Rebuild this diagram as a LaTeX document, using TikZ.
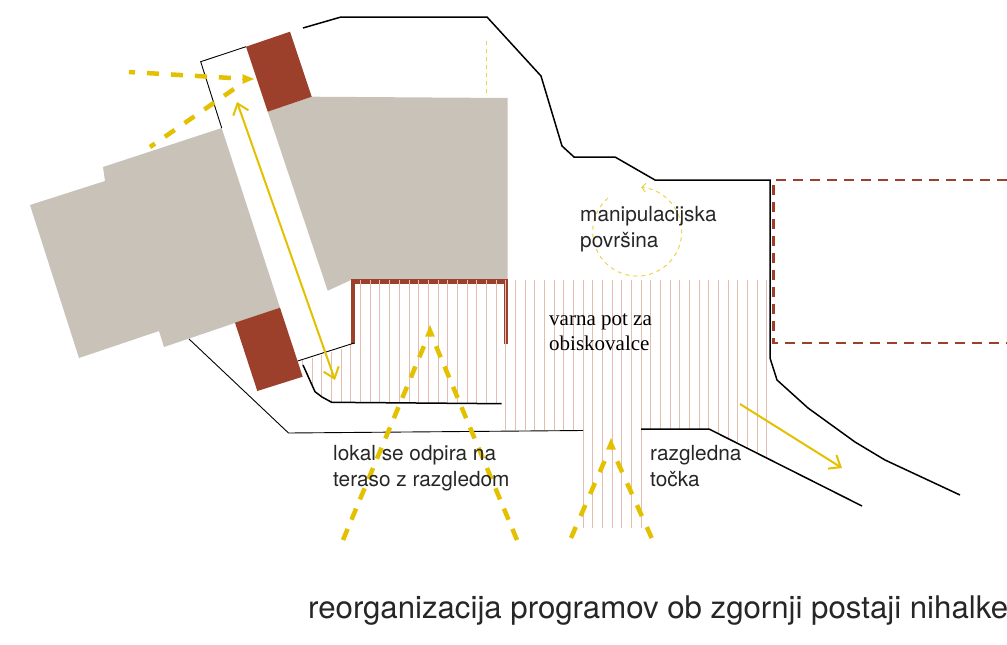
\documentclass[tikz,border=0pt]{standalone}
\usepackage{fontspec}
\setmainfont{TeX Gyre Heros}
\newfontfamily\serifface{Liberation Serif}
\usetikzlibrary{arrows.meta}
\definecolor{greymass}{HTML}{C9C2B8}
\definecolor{brick}{HTML}{9C3F2B}
\definecolor{ochre}{HTML}{E3C000}
\definecolor{hatch}{HTML}{E2BDB0}
\definecolor{labelink}{HTML}{262626}

\begin{document}
\begin{tikzpicture}[x=1pt, y=-1pt]

\tikzstyle{mass}=[fill=greymass, draw=none]
\tikzstyle{block}=[fill=brick, draw=none]
\tikzstyle{outline}=[draw=black, line width=1.5pt, line join=miter]
\tikzstyle{thinline}=[draw=black, line width=0.9pt]
\tikzstyle{walls}=[draw=brick, line width=4.5pt]
\tikzstyle{limit}=[draw=brick, line width=2.2pt, dash pattern=on 10pt off 7pt]
\tikzstyle{hatchline}=[draw=hatch, line width=1pt]
\tikzstyle{view}=[draw=ochre, line width=4.5pt, dash pattern=on 12pt off 10pt]
\tikzstyle{viewtip}=[draw=ochre, line width=0.2pt,
  -{Triangle[width=9.5pt, length=11.5pt, fill=ochre]}]
\tikzstyle{move}=[draw=ochre, line width=2pt]
\tikzstyle{faint}=[draw=ochre!70, line width=1pt, dash pattern=on 4pt off 4pt]
\tikzstyle{label}=[anchor=north west, inner sep=0pt, align=left, text=labelink,
  font=\fontsize{20.8}{26}\selectfont]

\useasboundingbox (0,0) rectangle (1007,645);

\fill[mass] (267.7,111.7) -- (311.7,96.7) -- (507.6,98) -- (507.6,280)
  -- (351,280) -- (327.7,290.7) -- cycle;
\fill[mass] (30,205) -- (105,181) -- (103,167) -- (221.7,128) -- (280,307.7)
  -- (164,347) -- (159,331) -- (79,358) -- cycle;

\fill[block] (246,46.7) -- (290,31.7) -- (311.7,96.7) -- (267.7,111.7) -- cycle;
\fill[block] (235,322.7) -- (280,307.7) -- (302.7,376.7) -- (257.3,391) -- cycle;

\draw[walls] (353,344) -- (353,281.5) -- (506,281.5) -- (506,344);

\foreach \k in {-15,...,-1} {
  \draw[hatchline] ({505.7+9.67*\k},279.5) -- ({505.7+9.67*\k},403);
}
\foreach \k in {0,...,7} {
  \draw[hatchline] ({505.7+9.67*\k},279.5) -- ({505.7+9.67*\k},430);
}
\foreach \k in {8,...,14} {
  \draw[hatchline] ({505.7+9.67*\k},279.5) -- ({505.7+9.67*\k},528);
}
\foreach \k in {15,...,21} {
  \draw[hatchline] ({505.7+9.67*\k},279.5) -- ({505.7+9.67*\k},429);
}
\foreach \k/\low in {22/433,23/438,24/443,25/448,26/453,27/458} {
  \draw[hatchline] ({505.7+9.67*\k},279.5) -- ({505.7+9.67*\k},\low);
}
\foreach \k/\high/\low in {-21/359/365,-20/358/385,-19/355/398,-18/352/403,-17/349/403,-16/345/403} {
  \draw[hatchline] ({505.7+9.67*\k},\high) -- ({505.7+9.67*\k},\low);
}

\draw[outline] (303,28) -- (341,17) -- (487,17) -- (541,76) -- (562,146)
  -- (574,157) -- (615,157) -- (655,180) -- (770,180) -- (770,358) -- (777,380)
  -- (808,408) -- (855,442) -- (885,460) -- (960,495);
\draw[outline] (641,429) -- (709,429) -- (862,506);
\draw[outline] (303,365) -- (315,391.7) -- (322,397) -- (331.7,402.3) -- (501.7,403.7);
\draw[thinline] (189,339) -- (288.5,433) -- (583,430.5);
\draw[thinline] (297.7,361) -- (354.3,343);
\draw[thinline] (246,46.7) -- (200.7,61.7) -- (221.7,128);

\draw[limit] (1007,180) -- (773.5,180) -- (773.5,343) -- (1007,343);

\draw[view, dash pattern=on 12pt off 12pt, dash phase=6pt] (129,72) -- (231,78);
\draw[viewtip] (242,79) -- (254,79);
\draw[view, dash pattern=on 12pt off 12pt, dash phase=6pt] (150,147) -- (234,89);
\draw[view] (343,540) -- (424,346);
\draw[view] (517,540) -- (436,346);
\draw[viewtip] (430,337) -- (430,325);
\draw[view, dash pattern=on 12pt off 12pt] (571,538) -- (605,460);
\draw[view, dash pattern=on 12pt off 12pt] (651.7,538) -- (616.7,460);
\draw[viewtip] (611,449.5) -- (611,438);

\draw[move, {Straight Barb[length=10pt, width=16pt]}-{Straight Barb[length=10pt, width=16pt]}]
  (237,102) -- (335,380);
\draw[move, -{Straight Barb[length=10pt, width=16pt]}] (740,404) -- (842,468);

\draw[faint] (486,41) -- (486,94);
\draw[faint, -{Straight Barb[length=4pt, width=9pt, sep=0pt]}] (608,198)
  arc[start angle=131, end angle=445, radius=44.5pt];

\node[label] (manipulacija) at (580,206) {manipulacijska\\povr\v{s}ina};
\node[label] (lokal) at (333,445) {lokal se odpira na\\teraso z razgledom};
\node[label] (razgledna) at (650,445) {razgledna\\to\v{c}ka};
\node[anchor=north west, inner sep=0pt, align=left, text=black,
  font=\serifface\fontsize{21}{25}\selectfont] (varnapot) at (549,313)
  {varna pot za\\obiskovalce};
\node[anchor=base west, inner sep=0pt, text=labelink,
  font=\fontsize{31.2}{34}\selectfont] (naslov) at (308,618)
  {reorganizacija programov ob zgornji postaji nihalke};

\end{tikzpicture}
\end{document}
